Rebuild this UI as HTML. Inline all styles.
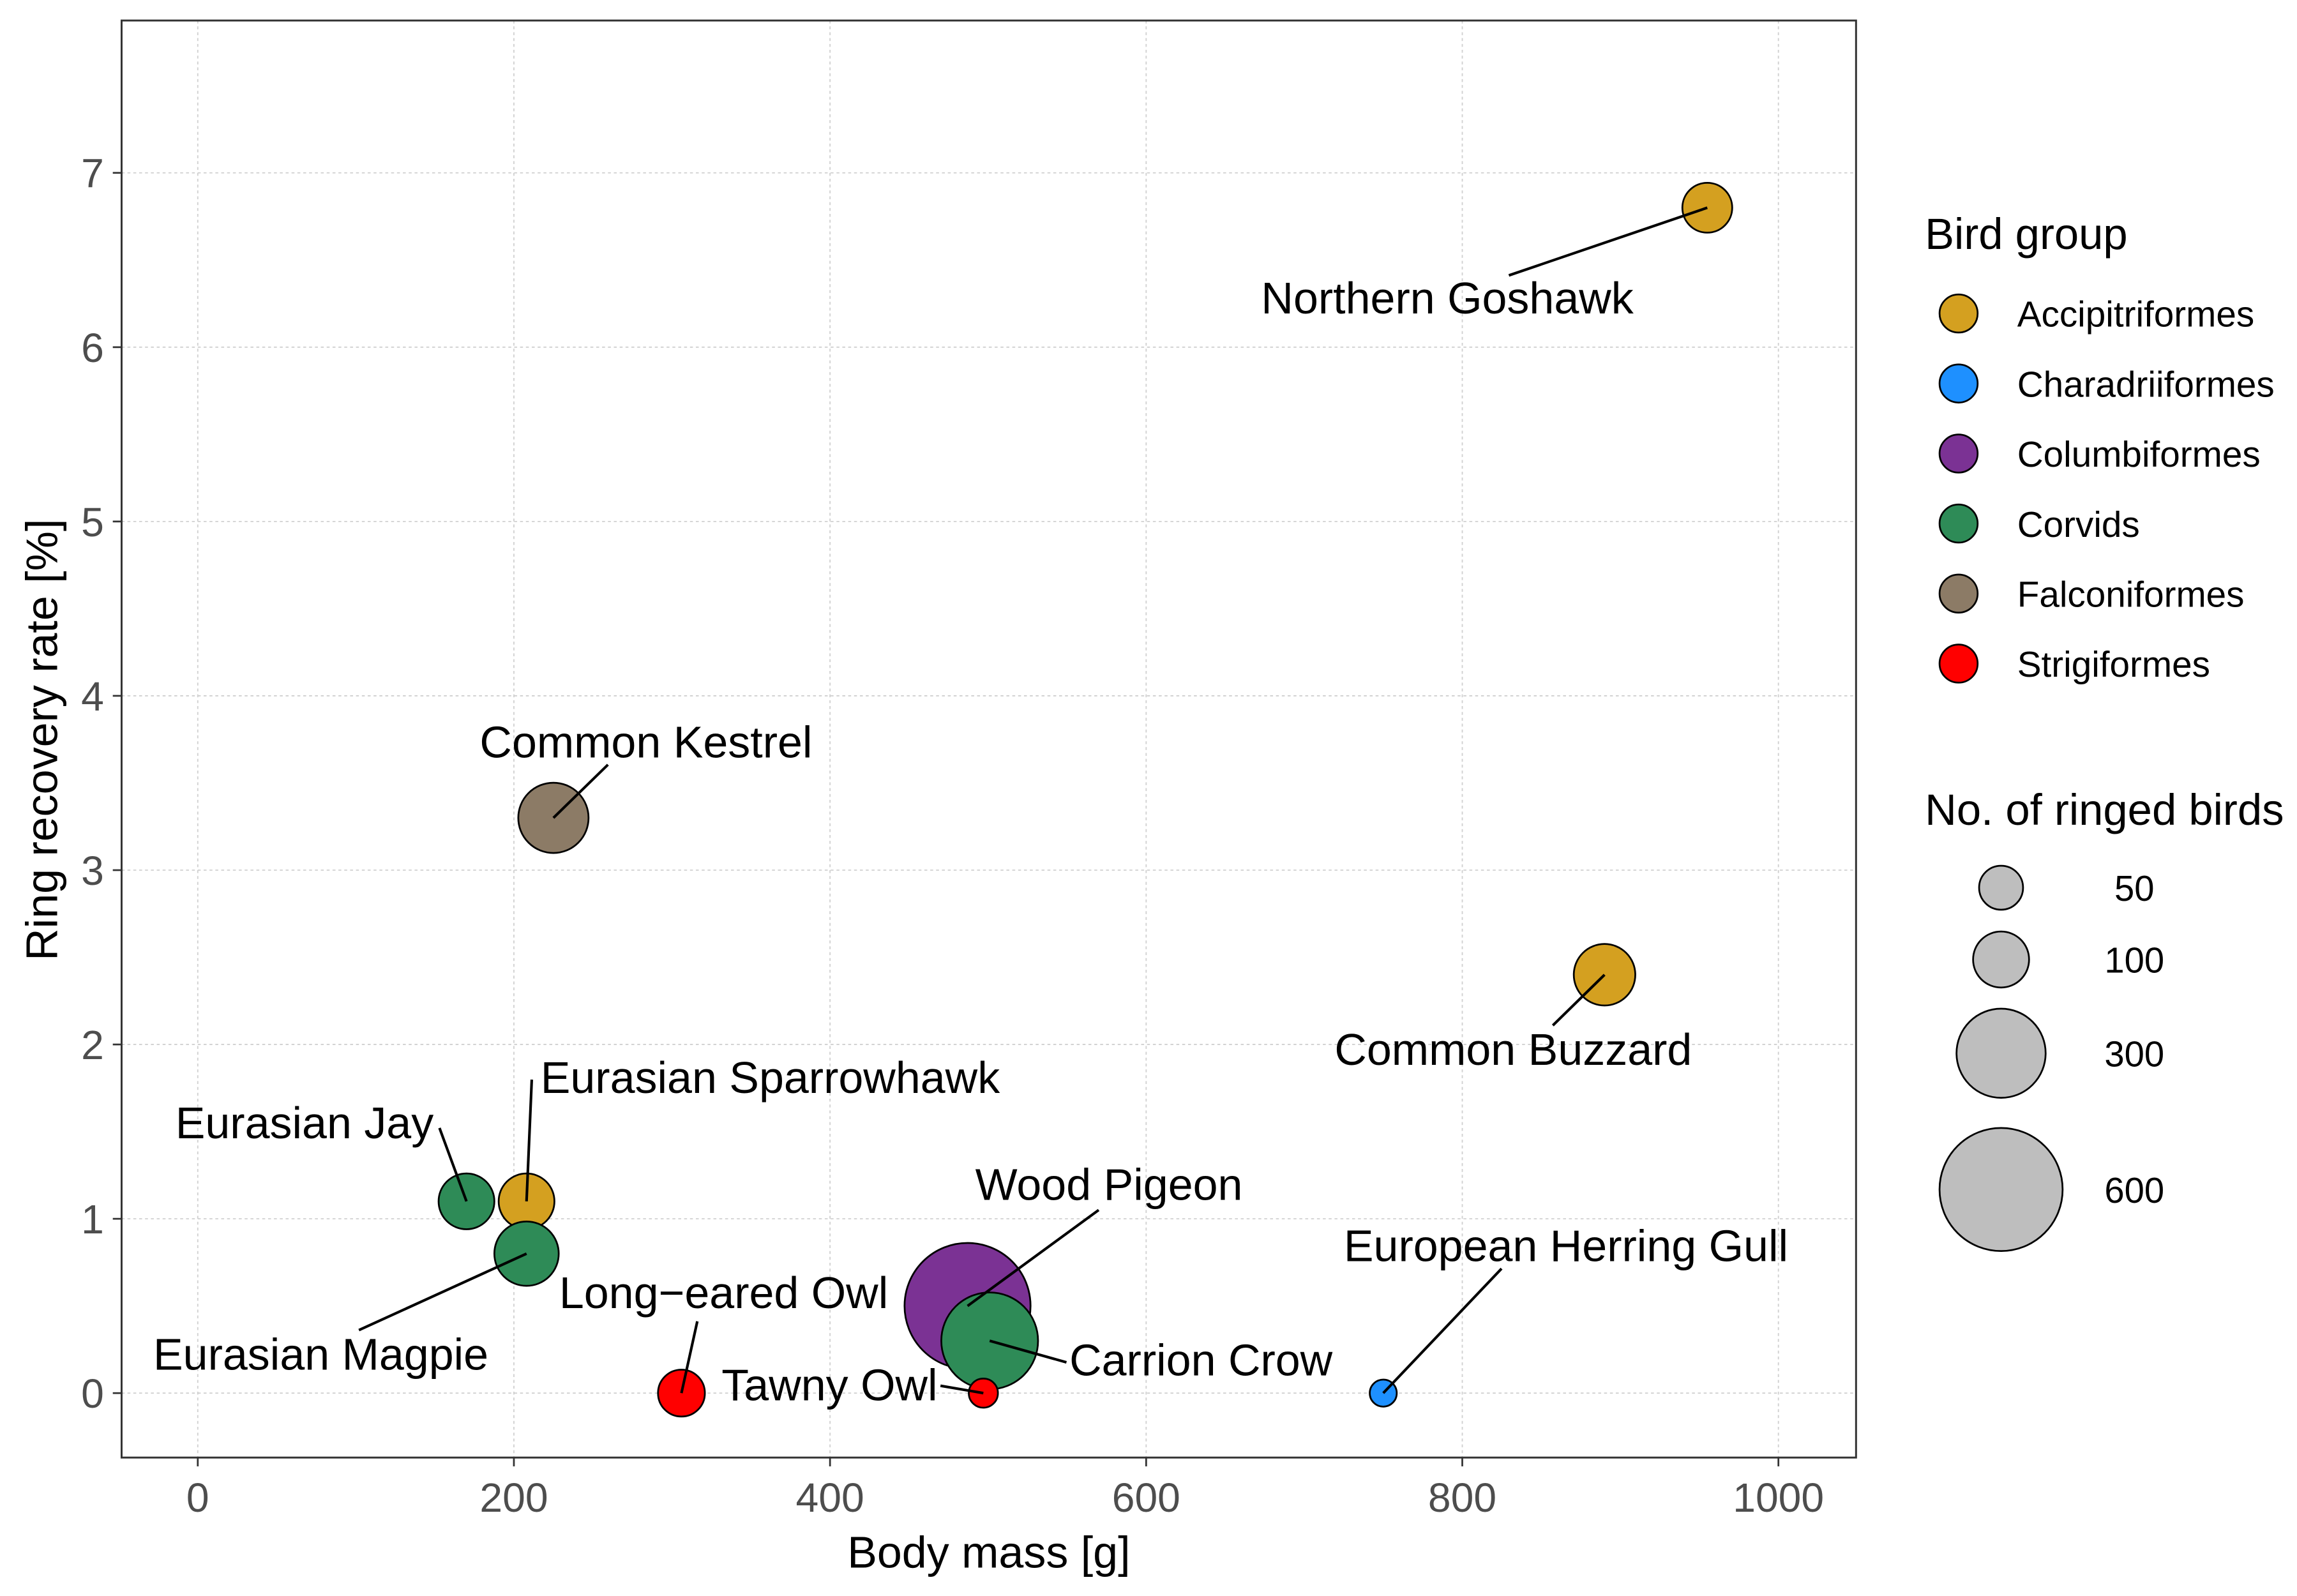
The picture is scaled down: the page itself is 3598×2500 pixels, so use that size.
<!DOCTYPE html>
<html><head><meta charset="utf-8"><style>
html,body{margin:0;padding:0;background:#fff}
svg{display:block;font-family:"Liberation Sans",Arial,sans-serif}
</style></head><body>
<svg id="chart" width="3598" height="2500" viewBox="0 0 1568 1089.5" xmlns="http://www.w3.org/2000/svg">
<rect x="0" y="0" width="1568" height="1089.5" fill="#fff"/>
<g id="grid"></g>
<g id="marks"></g>
<g id="labels"></g>
<rect x="83" y="14" width="1184" height="981" fill="none" stroke="#333" stroke-width="1.3"/>
<g id="axes"></g>
<text x="675" y="1070" text-anchor="middle" font-size="30.5" fill="#000">Body mass [g]</text>
<text transform="translate(39,505) rotate(-90)" text-anchor="middle" font-size="30.5" fill="#000">Ring recovery rate [%]</text>
<g id="legend"></g>
</svg>
<script>
const species = ["Wood Pigeon","Carrion Crow","Northern Goshawk","Common Buzzard","Common Kestrel","Eurasian Sparrowhawk","Eurasian Jay","Eurasian Magpie","Long\u2212eared Owl","Tawny Owl","European Herring Gull"];
const groups = ["Columbiformes","Corvids","Accipitriformes","Accipitriformes","Falconiformes","Accipitriformes","Corvids","Corvids","Strigiformes","Strigiformes","Charadriiformes"];
const bodyMass = [487,501,955,890,225,208,170,208,306,497,750];
const recoveryRate = [0.5,0.3,6.8,2.4,3.3,1.1,1.1,0.8,0,0,0];
const ringed = [630,359,73,127,175,99,99,142,61,5,0];
const groupNames = ["Accipitriformes","Charadriiformes","Columbiformes","Corvids","Falconiformes","Strigiformes"];
const groupColors = ["#D4A020","#1E90FF","#7B3294","#2E8B57","#8C7B66","#FF0000"];
const sizeBreaks = [50,100,300,600];
const xTicks = [0,200,400,600,800,1000];
const yTicks = [0,1,2,3,4,5,6,7];
const labelPos = [[757,819,"middle",750,826],[730,939,"start",728,930],[988,214,"middle",1030,188],[1033,727,"middle",1060,700],[441,517,"middle",415,522],[369,746,"start",363,737],[296,777,"end",300,770],[219,935,"middle",245,908],[494,893,"middle",476,902],[640,956,"end",642,946],[1069,861,"middle",1025,866]];

const NS="http://www.w3.org/2000/svg";
const X=v=>135+v*(1214-135)/1000;
const Y=v=>951-v*(951-118)/7;
const R=n=>Math.sqrt(Math.max(25,85+2.8*n));
function mk(tag,attrs,parent){const e=document.createElementNS(NS,tag);for(const k in attrs)e.setAttribute(k,attrs[k]);parent.appendChild(e);return e;}
const grid=document.getElementById('grid'),axes=document.getElementById('axes'),marks=document.getElementById('marks'),labels=document.getElementById('labels'),legend=document.getElementById('legend');
xTicks.forEach(t=>{
  const g=mk('line',{x1:X(t),x2:X(t),y1:14,y2:995,stroke:'#d0d0d0','stroke-width':0.8,'stroke-dasharray':'2,2'},grid);
  
  
  const tk=mk('line',{x1:X(t),x2:X(t),y1:995,y2:1001,stroke:'#333','stroke-width':1.2},axes);
  
  
  const tl=mk('text',{x:X(t),y:1032,'text-anchor':'middle','font-size':28,fill:'#4d4d4d'},axes);
  tl.textContent=t;
  
  
});
yTicks.forEach(t=>{
  const g=mk('line',{x1:83,x2:1267,y1:Y(t),y2:Y(t),stroke:'#d0d0d0','stroke-width':0.8,'stroke-dasharray':'2,2'},grid);
  
  
  const tk=mk('line',{x1:77,x2:83,y1:Y(t),y2:Y(t),stroke:'#333','stroke-width':1.2},axes);
  
  
  const tl=mk('text',{x:71,y:Y(t)+10,'text-anchor':'end','font-size':28,fill:'#4d4d4d'},axes);
  tl.textContent=t;
  
  
});
species.forEach((s,i)=>{
  const c=mk('circle',{cx:X(bodyMass[i]),cy:Y(recoveryRate[i]),r:R(ringed[i]),fill:groupColors[groupNames.indexOf(groups[i])],stroke:'#000','stroke-width':1.2},marks);
  
  
});
species.forEach((s,i)=>{
  const p=labelPos[i];
  const l=mk('line',{x1:p[3],y1:p[4],x2:X(bodyMass[i]),y2:Y(recoveryRate[i]),stroke:'#000','stroke-width':1.8},labels);
  
  
  const t=mk('text',{x:p[0],y:p[1],'text-anchor':p[2],'font-size':30.5,fill:'#000'},labels);
  t.textContent=s;
  
  
});
const lt=mk('text',{x:1314,y:170,'font-size':30,fill:'#000'},legend);
lt.textContent='Bird group';


groupNames.forEach((g,i)=>{
  const y=214+i*47.8;
  const c=mk('circle',{cx:1337,cy:y,r:13,fill:groupColors[i],stroke:'#000','stroke-width':1.2},legend);
  
  
  const t=mk('text',{x:1377,y:y+9,'font-size':24.7,fill:'#000'},legend);
  t.textContent=g;
  
  
});
const st=mk('text',{x:1314,y:563,'font-size':30,fill:'#000'},legend);
st.textContent='No. of ringed birds';


const sizeY=[606,655,719,812];
sizeBreaks.forEach((b,i)=>{
  const c=mk('circle',{cx:1366,cy:sizeY[i],r:R(b),fill:'#bebebe',stroke:'#000','stroke-width':1.2},legend);
  
  
  const t=mk('text',{x:1457,y:sizeY[i]+9,'text-anchor':'middle','font-size':24.5,fill:'#000'},legend);
  t.textContent=b;
  
  
});
</script>
</body></html>
